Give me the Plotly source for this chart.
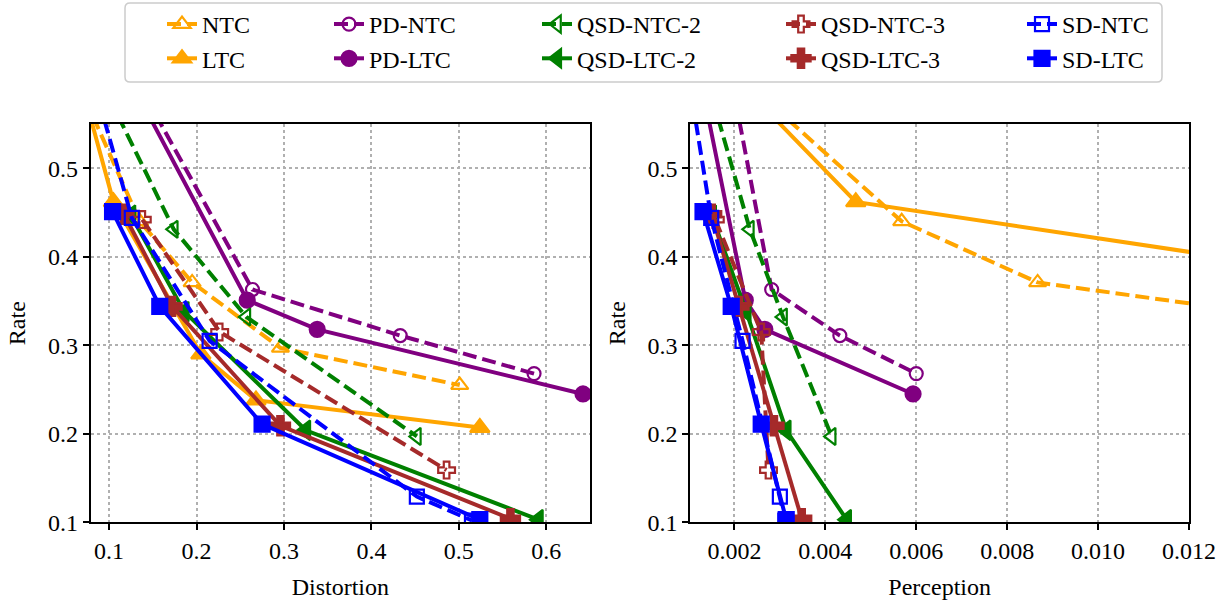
import plotly.graph_objects as go

# ---------------- data ----------------
series_names = ["NTC", "LTC", "PD-NTC", "PD-LTC", "QSD-NTC-2", "QSD-LTC-2",
                "QSD-NTC-3", "QSD-LTC-3", "SD-NTC", "SD-LTC"]

ntc_rate = [0.60, 0.44, 0.371, 0.297, 0.255]
ntc_dist = [0.063, 0.135, 0.195, 0.296, 0.501]
ntc_perc = [0.0022, 0.00568, 0.00867, 0.0196, 0.025]

ltc_rate = [0.60, 0.462, 0.29, 0.238, 0.207]
ltc_dist = [0.067, 0.105, 0.205, 0.268, 0.524]
ltc_perc = [0.00206, 0.00467, 0.027, 0.035, 0.05]

pd_ntc_rate = [0.62, 0.363, 0.311, 0.268]
pd_ntc_dist = [0.120, 0.264, 0.433, 0.586]
pd_ntc_perc = [0.00186, 0.00282, 0.00432, 0.0060]

pd_ltc_rate = [0.62, 0.351, 0.318, 0.245]
pd_ltc_dist = [0.113, 0.258, 0.338, 0.642]
pd_ltc_perc = [0.00118, 0.00224, 0.00267, 0.00593]

qsd_ntc2_rate = [0.60, 0.431, 0.332, 0.197]
qsd_ntc2_dist = [0.090, 0.174, 0.257, 0.452]
qsd_ntc2_perc = [0.00140, 0.00234, 0.00307, 0.00414]

qsd_ltc2_rate = [0.447, 0.338, 0.204, 0.103]
qsd_ltc2_dist = [0.125, 0.186, 0.325, 0.591]
qsd_ltc2_perc = [0.00150, 0.00226, 0.00314, 0.00447]

qsd_ntc3_rate = [0.442, 0.315, 0.159]
qsd_ntc3_dist = [0.138, 0.2265, 0.486]
qsd_ntc3_perc = [0.00158, 0.00259, 0.00275]

qsd_ltc3_rate = [0.448, 0.344, 0.209, 0.104]
qsd_ltc3_dist = [0.117, 0.172, 0.296, 0.559]
qsd_ltc3_perc = [0.00150, 0.0021, 0.00287, 0.00348]

sd_ntc_rate = [0.62, 0.444, 0.305, 0.129, 0.102]
sd_ntc_dist = [0.076, 0.126, 0.215, 0.452, 0.515]
sd_ntc_perc = [0.00094, 0.00149, 0.00218, 0.00300, 0.00312]

sd_ltc_rate = [0.451, 0.344, 0.211, 0.103]
sd_ltc_dist = [0.104, 0.158, 0.275, 0.524]
sd_ltc_perc = [0.00131, 0.00193, 0.00259, 0.00314]

rate_ticks = [0.1, 0.2, 0.3, 0.4, 0.5]
dist_ticks = [0.1, 0.2, 0.3, 0.4, 0.5, 0.6]
perc_ticks = [0.002, 0.004, 0.006, 0.008, 0.010, 0.012]

# ---------------- styles ----------------
ORANGE, PURPLE, GREEN, BROWN, BLUE = "#FFA500", "#800080", "#008000", "#A52A2A", "#0000FF"
DASH = "14px,6px"

specs = [
    ("NTC", ntc_dist, ntc_perc, ntc_rate, ORANGE, DASH, "triangle-up-open", 15, "legend"),
    ("LTC", ltc_dist, ltc_perc, ltc_rate, ORANGE, "solid", "triangle-up", 17, "legend"),
    ("PD-NTC", pd_ntc_dist, pd_ntc_perc, pd_ntc_rate, PURPLE, DASH, "circle-open", 13, "legend2"),
    ("PD-LTC", pd_ltc_dist, pd_ltc_perc, pd_ltc_rate, PURPLE, "solid", "circle", 15, "legend2"),
    ("QSD-NTC-2", qsd_ntc2_dist, qsd_ntc2_perc, qsd_ntc2_rate, GREEN, DASH, "triangle-left-open", 15, "legend3"),
    ("QSD-LTC-2", qsd_ltc2_dist, qsd_ltc2_perc, qsd_ltc2_rate, GREEN, "solid", "triangle-left", 17, "legend3"),
    ("QSD-NTC-3", qsd_ntc3_dist, qsd_ntc3_perc, qsd_ntc3_rate, BROWN, DASH, "cross-open", 14, "legend4"),
    ("QSD-LTC-3", qsd_ltc3_dist, qsd_ltc3_perc, qsd_ltc3_rate, BROWN, "solid", "cross", 16, "legend4"),
    ("SD-NTC", sd_ntc_dist, sd_ntc_perc, sd_ntc_rate, BLUE, DASH, "square-open", 14, "legend5"),
    ("SD-LTC", sd_ltc_dist, sd_ltc_perc, sd_ltc_rate, BLUE, "solid", "square", 15, "legend5"),
]

fig = go.Figure()
for name, dist, perc, rate, color, dash, sym, msize, leg in specs:
    for xs, xa, ya, show in ((dist, "x", "y", True), (perc, "x2", "y2", False)):
        fig.add_trace(go.Scatter(
            x=xs, y=rate, xaxis=xa, yaxis=ya, name=name, mode="lines+markers",
            line=dict(color=color, width=4, dash=dash),
            marker=dict(symbol=sym, size=msize, color=color,
                        line=dict(color=color, width=2.2)),
            showlegend=show, legend=leg, legendgroup=name,
        ))

W, H = 1228, 602
FONT = "Liberation Serif, Times New Roman, serif"
FS = 24

def px_x(p):
    return p / W

def px_y(p):
    return 1 - p / H

axis_common = dict(
    showline=True, linecolor="black", linewidth=2, mirror=True,
    ticks="outside", ticklen=6, tickwidth=1.5, tickcolor="black",
    showgrid=True, gridcolor="#b0b0b0", griddash="dot", gridwidth=1.5,
    zeroline=False, automargin=False,
    tickfont=dict(size=FS, color="black", family=FONT),
)

fig.update_layout(
    width=W, height=H, margin=dict(l=0, r=0, t=0, b=0, autoexpand=False),
    paper_bgcolor="white", plot_bgcolor="white",
    font=dict(family=FONT, size=FS, color="black"),
    xaxis=dict(domain=[px_x(90.7), px_x(590)], range=[0.079, 0.65],
               tickvals=dist_ticks, tickformat=".1f",
               title=dict(text="Distortion", font=dict(size=FS)),
               anchor="y", **axis_common),
    yaxis=dict(domain=[px_y(522.3), px_y(124)], range=[0.1, 0.55],
               tickvals=rate_ticks, tickformat=".1f",
               title=dict(text="Rate", font=dict(size=FS)),
               anchor="x", **axis_common),
    xaxis2=dict(domain=[px_x(690.3), px_x(1189)], range=[0.00103, 0.012],
                tickvals=perc_ticks, tickformat=".3f",
                title=dict(text="Perception", font=dict(size=FS)),
                anchor="y2", **axis_common),
    yaxis2=dict(domain=[px_y(522.3), px_y(124)], range=[0.1, 0.55],
                tickvals=rate_ticks, tickformat=".1f",
                title=dict(text="Rate", font=dict(size=FS)),
                anchor="x2", **axis_common),
)

legend_cols = {"legend": 162, "legend2": 329, "legend3": 537, "legend4": 781, "legend5": 1022}
for key, xp in legend_cols.items():
    fig.update_layout({key: dict(
        x=px_x(xp), xanchor="left", y=px_y(2), yanchor="top",
        orientation="v", bgcolor="rgba(0,0,0,0)", borderwidth=0,
        font=dict(size=FS, family=FONT, color="black"),
        tracegroupgap=0, itemsizing="trace",
    )})

# rounded legend frame
x0, x1, y0, y1 = px_x(125), px_x(1162), px_y(82), px_y(3)
rx, ry = 5 / W, 5 / H
path = (f"M{x0+rx},{y1} L{x1-rx},{y1} Q{x1},{y1} {x1},{y1-ry} L{x1},{y0+ry} "
        f"Q{x1},{y0} {x1-rx},{y0} L{x0+rx},{y0} Q{x0},{y0} {x0},{y0+ry} "
        f"L{x0},{y1-ry} Q{x0},{y1} {x0+rx},{y1} Z")
fig.add_shape(type="path", path=path, xref="paper", yref="paper",
              line=dict(color="#cccccc", width=1.5), fillcolor="rgba(255,255,255,0.8)",
              layer="below")

fig.write_html("out.html", config={"displayModeBar": False},
               post_script="document.body.style.margin='0';")
